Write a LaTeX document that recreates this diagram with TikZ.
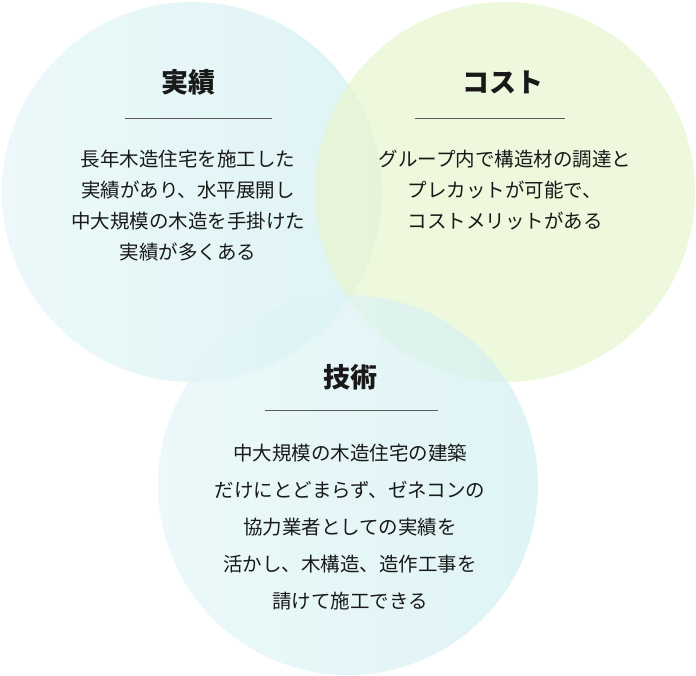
\documentclass[tikz,border=0pt]{standalone}
\usepackage{fontspec}
\setmainfont{Noto Sans CJK JP}
\usetikzlibrary{positioning}
\definecolor{ring-cyan}{RGB}{212,240,242}
\definecolor{ring-lime}{RGB}{232,245,208}
\definecolor{rule-gray}{RGB}{90,90,90}

\begin{document}
\begin{tikzpicture}[
    x=1pt, y=-1pt,
    circ/.style={circle, minimum size=380pt, inner sep=0pt, fill opacity=0.75},
    title/.style={font=\fontsize{27}{27}\selectfont\bfseries, text=black!90},
    body/.style={font=\fontsize{19.5}{31}\selectfont, align=center, text=black!90},
    rulebar/.style={draw=rule-gray, line width=0.8pt}
]
\useasboundingbox (0,0) rectangle (696,676);

% circles
\node[circ, left color=ring-cyan!60, right color=ring-cyan] (c-left) at (192,192) {};
\node[circ, fill=ring-lime] (c-right) at (505,192) {};
\node[circ, left color=ring-cyan!60, right color=ring-cyan] (c-bottom) at (348,485) {};

% left: track record
\node[title] (t-left) at (188,82) {実績};
\draw[rulebar] (125,118) -- (272,118);
\node[body, anchor=north] (b-left) at (188,147) {長年木造住宅を施工した\\実績があり、水平展開し\\中大規模の木造を手掛けた\\実績が多くある};

% right: cost
\node[title] (t-right) at (503,82) {コスト};
\draw[rulebar] (415,118) -- (565,118);
\node[body, anchor=north] (b-right) at (505,147) {グループ内で構造材の調達と\\プレカットが可能で、\\コストメリットがある};

% bottom: technique
\node[title] (t-bottom) at (350,377) {技術};
\draw[rulebar] (265,410) -- (438,410);
\node[body, font=\fontsize{19.5}{37}\selectfont, anchor=north] (b-bottom) at (350,440) {中大規模の木造住宅の建築\\だけにとどまらず、ゼネコンの\\協力業者としての実績を\\活かし、木構造、造作工事を\\請けて施工できる};

\end{tikzpicture}
\end{document}
